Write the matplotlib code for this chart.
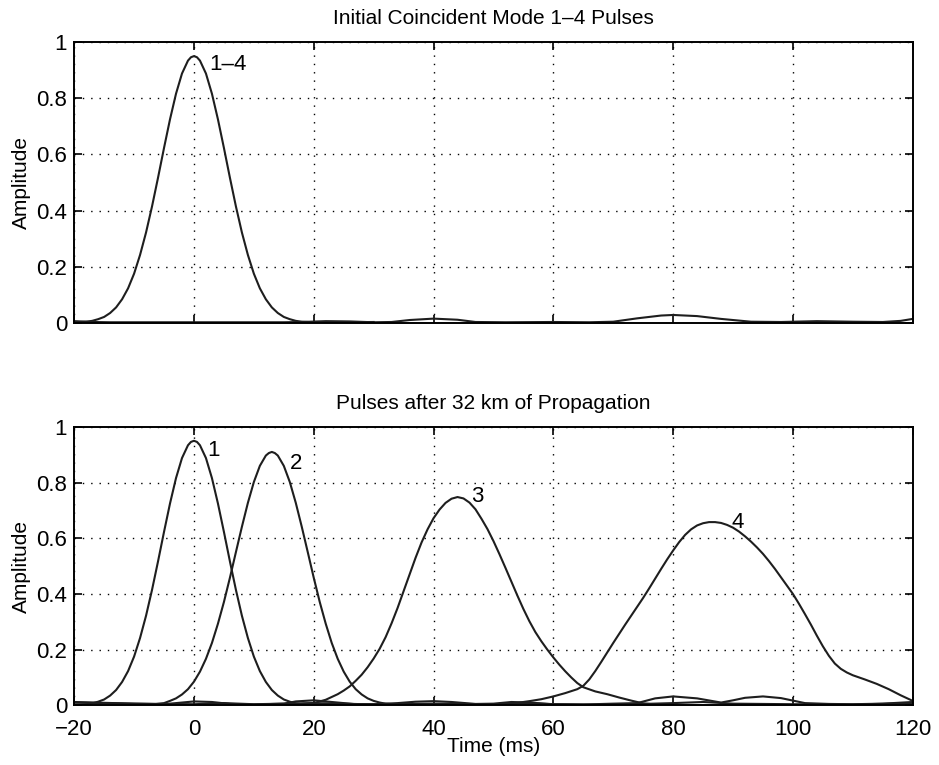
import matplotlib
matplotlib.use("Agg")
import matplotlib.pyplot as plt

plt.rcParams['font.family'] = ['Liberation Sans', 'DejaVu Sans']

# mode 1 pulse (same shape in both panels)
x_p1 = [-20, -19, -18, -17, -16, -15, -14, -13, -12, -11, -10, -9, -8, -7, -6, -5, -4, -3, -2, -1, -0.5,
        0, 0.5, 1, 2, 3, 4, 5, 6, 7, 8, 9, 10, 11, 12, 13, 14, 15, 16, 17, 18, 20, 25, 30]
y_p1 = [0.003, 0.003, 0.004, 0.007, 0.013, 0.021, 0.035, 0.055, 0.084, 0.123, 0.175, 0.242, 0.322, 0.415, 0.517, 0.623, 0.725, 0.816, 0.888, 0.934, 0.946,
        0.95, 0.946, 0.934, 0.888, 0.816, 0.725, 0.623, 0.517, 0.415, 0.322, 0.242, 0.175, 0.123, 0.084, 0.055, 0.035, 0.021, 0.013, 0.007, 0.004, 0.002, 0.002, 0.003]

# top panel residual ripple
x_top_res = [-20, -17, -14, 15, 18, 22, 26, 30, 33, 36, 40, 44, 47, 52, 60, 66, 70, 74, 78, 80, 84, 88, 93, 98, 104, 110, 115, 118, 120]
y_top_res = [0.006, 0.003, 0.002, 0.002, 0.003, 0.006, 0.005, 0.002, 0.003, 0.01, 0.015, 0.011, 0.003, 0.002, 0.003, 0.002, 0.004, 0.016, 0.026, 0.028, 0.024, 0.014, 0.004, 0.003, 0.006, 0.004, 0.003, 0.007, 0.014]

# mode 2 after 32 km
x_p2 = [-10, -7, -5, -4, -3, -2, -1, 0, 1, 2, 3, 4, 5, 6, 7, 8, 9, 10, 11, 12, 12.5, 13, 13.5, 14, 15, 16, 17, 18, 19, 20,
        21, 22, 23, 24, 25, 26, 27, 28, 29, 30, 31, 32, 34, 38]
y_p2 = [0.002, 0.003, 0.008, 0.016, 0.025, 0.039, 0.058, 0.085, 0.121, 0.167, 0.224, 0.293, 0.371, 0.458, 0.55, 0.641, 0.727, 0.802, 0.86, 0.897, 0.906, 0.91, 0.906, 0.897, 0.86, 0.802, 0.727, 0.641, 0.55, 0.458,
        0.371, 0.293, 0.224, 0.167, 0.121, 0.085, 0.058, 0.039, 0.025, 0.016, 0.01, 0.006, 0.003, 0.002]

# mode 3 after 32 km
x_p3 = [16, 20, 22, 24, 25, 26, 27, 28, 29, 30, 31, 32, 33, 34, 35, 36, 37, 38, 39, 40, 41, 42, 43, 44, 45, 46, 47, 48,
        49, 50, 51, 52, 53, 54, 55, 56, 57, 58, 59, 60, 61, 62, 63, 64, 65, 67, 69, 71, 73, 75, 77, 80]
y_p3 = [0.002, 0.008, 0.02, 0.04, 0.053, 0.068, 0.088, 0.11, 0.137, 0.168, 0.203, 0.245, 0.295, 0.35, 0.41, 0.47, 0.53, 0.585, 0.632, 0.672, 0.703, 0.727, 0.742, 0.748, 0.743, 0.728, 0.704, 0.67,
        0.633, 0.59, 0.543, 0.494, 0.444, 0.394, 0.346, 0.302, 0.263, 0.23, 0.2, 0.172, 0.146, 0.122, 0.1, 0.08, 0.065, 0.05, 0.04, 0.028, 0.017, 0.007, 0.003, 0.002]

# mode 4 after 32 km
x_p4 = [46, 50, 52, 54, 56, 58, 60, 62, 63, 64, 65, 66, 67, 68, 69, 70, 71, 72, 73, 74, 75, 76, 77, 78, 79, 80,
        81, 82, 83, 84, 85, 86, 87, 88, 89, 90, 91, 92, 93, 94, 95, 96, 97, 98, 99, 100, 101, 102, 103, 104, 105, 106, 107, 108,
        109, 110, 112, 114, 116, 118, 120]
y_p4 = [0.002, 0.003, 0.005, 0.009, 0.015, 0.022, 0.032, 0.044, 0.051, 0.058, 0.07, 0.093, 0.123, 0.156, 0.19, 0.224, 0.257, 0.29, 0.322, 0.354, 0.386, 0.42, 0.455, 0.49, 0.524, 0.556,
        0.586, 0.612, 0.632, 0.646, 0.654, 0.658, 0.658, 0.655, 0.648, 0.638, 0.624, 0.607, 0.588, 0.567, 0.544, 0.518, 0.49, 0.46, 0.43, 0.4, 0.365, 0.328, 0.29, 0.25, 0.212, 0.178, 0.15, 0.131,
        0.118, 0.108, 0.093, 0.077, 0.058, 0.036, 0.016]

# bottom panel residual ripples
x_res_a = [-20, -15, -10, -5, -3, 0, 3, 6, 10, 15, 17, 20, 23, 27, 30, 34, 37, 40, 43, 47, 50, 53, 56, 60, 65, 70,
           74, 77, 80, 84, 88, 90, 92, 95, 98, 102, 106, 110, 115, 120]
y_res_a = [0.01, 0.008, 0.006, 0.004, 0.008, 0.014, 0.012, 0.005, 0.003, 0.006, 0.014, 0.018, 0.012, 0.004, 0.004, 0.008, 0.013, 0.015, 0.012, 0.005, 0.006, 0.012, 0.01, 0.004, 0.003, 0.006,
           0.008, 0.025, 0.032, 0.025, 0.01, 0.018, 0.027, 0.032, 0.026, 0.008, 0.005, 0.004, 0.006, 0.012]
x_res_b = [-20, -10, 0, 5, 10, 20, 25, 30, 40, 50, 55, 60, 70, 80, 85, 90, 100, 110, 120]
y_res_b = [0.012, 0.006, 0.004, 0.008, 0.004, 0.008, 0.006, 0.003, 0.006, 0.004, 0.008, 0.004, 0.002, 0.008, 0.012, 0.006, 0.004, 0.003, 0.008]

xticks = [-20, 0, 20, 40, 60, 80, 100, 120]
yticks = [0, 0.2, 0.4, 0.6, 0.8, 1]
ytick_labels = ['0', '0.2', '0.4', '0.6', '0.8', '1']

line_kw = dict(color='#1e1e1e', linewidth=1.5)


def style_axes(ax):
    ax.set_xlim(-20, 120)
    ax.set_ylim(0, 1)
    ax.set_xticks(xticks)
    ax.set_yticks(yticks)
    ax.set_yticklabels(ytick_labels)
    ax.tick_params(direction='in', length=6, width=1.2, top=True, right=True, labelsize=16)
    ax.tick_params(axis='x', pad=10)
    ax.tick_params(axis='y', pad=5)
    ax.grid(True, color='black', linestyle=(0, (1, 5)), linewidth=1.0)
    for s in ax.spines.values():
        s.set_linewidth(1.4)
    ax.set_ylabel('Amplitude', fontsize=15, labelpad=4)


fig = plt.figure(figsize=(9.39, 7.65), dpi=100)
ax1 = fig.add_axes([0.079, 0.578, 0.893, 0.367])
ax2 = fig.add_axes([0.079, 0.078, 0.893, 0.364])

# top panel
ax1.plot(x_top_res, y_top_res, **line_kw)
ax1.plot(x_p1, y_p1, **line_kw)
style_axes(ax1)
ax1.set_xticklabels([])
ax1.set_title('Initial Coincident Mode 1\u20134 Pulses', fontsize=15, pad=13)
ax1.text(2.6, 0.92, '1\u20134', fontsize=16, va='center')

# bottom panel
ax2.plot(x_res_b, y_res_b, **line_kw)
ax2.plot(x_res_a, y_res_a, **line_kw)
ax2.plot(x_p1, y_p1, **line_kw)
ax2.plot(x_p2, y_p2, **line_kw)
ax2.plot(x_p3, y_p3, **line_kw)
ax2.plot(x_p4, y_p4, **line_kw)
style_axes(ax2)
ax2.set_title('Pulses after 32 km of Propagation', fontsize=15, pad=13)
ax2.set_xlabel('Time (ms)', fontsize=15, labelpad=-2)
ax2.text(2.3, 0.915, '1', fontsize=16, va='center')
ax2.text(16.0, 0.87, '2', fontsize=16, va='center')
ax2.text(46.2, 0.75, '3', fontsize=16, va='center')
ax2.text(89.8, 0.657, '4', fontsize=16, va='center')

fig.savefig('out.png', dpi=100)
